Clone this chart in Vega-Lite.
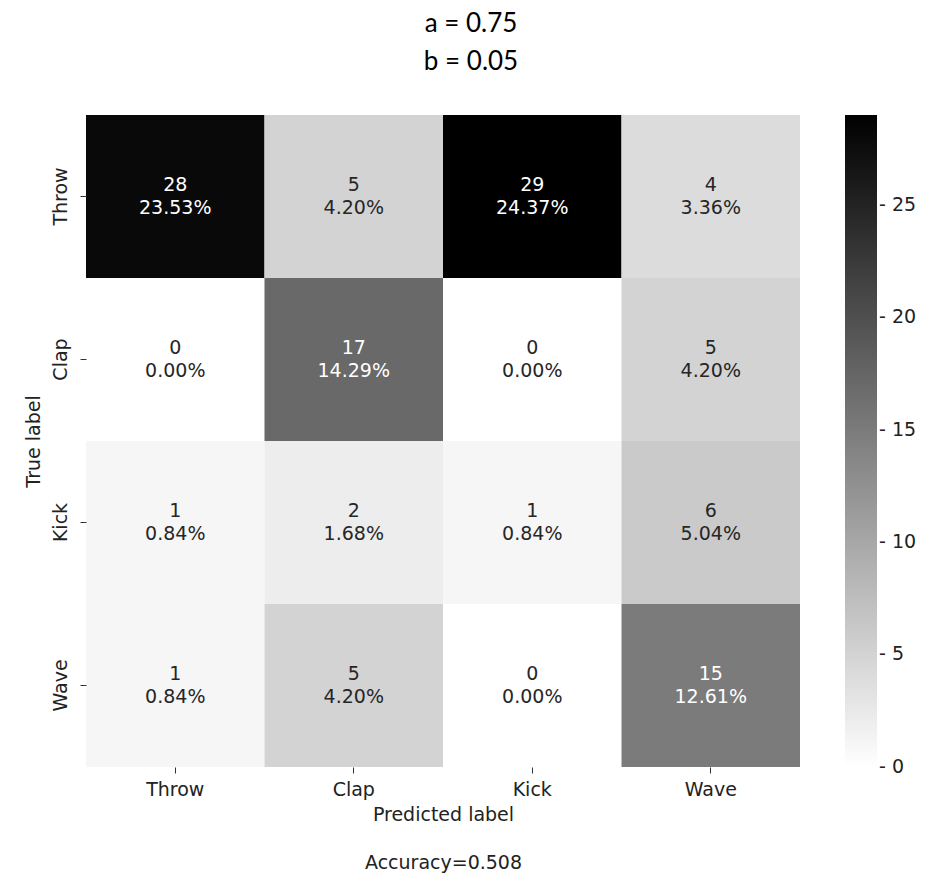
{
  "$schema": "https://vega.github.io/schema/vega-lite/v6.json",
  "width": 714,
  "height": 652,
  "autosize": {"type": "none"},
  "padding": {"left": 86, "top": 115, "right": 148, "bottom": 125},
  "background": "white",
  "title": {
    "text": ["a = 0.75", "b = 0.05"],
    "font": "Lato",
    "fontSize": 26,
    "fontWeight": "normal",
    "color": "black",
    "lineHeight": 38,
    "anchor": "middle",
    "frame": "group",
    "offset": 40,
    "dx": 28
  },
  "config": {
    "view": {"stroke": null},
    "font": "DejaVu Sans"
  },
  "data": {
    "values": [
      {"true": "Throw", "pred": "Throw", "count": 28, "pct": 0.23529},
      {"true": "Throw", "pred": "Clap", "count": 5, "pct": 0.04202},
      {"true": "Throw", "pred": "Kick", "count": 29, "pct": 0.24370},
      {"true": "Throw", "pred": "Wave", "count": 4, "pct": 0.03361},
      {"true": "Clap", "pred": "Throw", "count": 0, "pct": 0},
      {"true": "Clap", "pred": "Clap", "count": 17, "pct": 0.14286},
      {"true": "Clap", "pred": "Kick", "count": 0, "pct": 0},
      {"true": "Clap", "pred": "Wave", "count": 5, "pct": 0.04202},
      {"true": "Kick", "pred": "Throw", "count": 1, "pct": 0.00840},
      {"true": "Kick", "pred": "Clap", "count": 2, "pct": 0.01681},
      {"true": "Kick", "pred": "Kick", "count": 1, "pct": 0.00840},
      {"true": "Kick", "pred": "Wave", "count": 6, "pct": 0.05042},
      {"true": "Wave", "pred": "Throw", "count": 1, "pct": 0.00840},
      {"true": "Wave", "pred": "Clap", "count": 5, "pct": 0.04202},
      {"true": "Wave", "pred": "Kick", "count": 0, "pct": 0},
      {"true": "Wave", "pred": "Wave", "count": 15, "pct": 0.12605}
    ]
  },
  "encoding": {
    "x": {
      "field": "pred",
      "type": "nominal",
      "sort": ["Throw", "Clap", "Kick", "Wave"],
      "scale": {"paddingInner": 0, "paddingOuter": 0},
      "axis": {
        "orient": "bottom",
        "labelAngle": 0,
        "domain": false,
        "tickSize": 6,
        "tickColor": "#333333",
        "labelPadding": 7,
        "labelFont": "DejaVu Sans",
        "labelFontSize": 19,
        "labelColor": "#222222",
        "title": ["Predicted label", "Accuracy=0.508"],
        "titleFont": "DejaVu Sans",
        "titleFontSize": 19,
        "titleFontWeight": "normal",
        "titleColor": "#222222",
        "titleLineHeight": 48,
        "titlePadding": 6
      }
    },
    "y": {
      "field": "true",
      "type": "nominal",
      "sort": ["Throw", "Clap", "Kick", "Wave"],
      "scale": {"paddingInner": 0, "paddingOuter": 0},
      "axis": {
        "labelAngle": -90,
        "labelAlign": "center",
        "labelBaseline": "bottom",
        "domain": false,
        "tickSize": 6,
        "tickColor": "#333333",
        "labelPadding": 10,
        "labelFont": "DejaVu Sans",
        "labelFontSize": 19,
        "labelColor": "#222222",
        "title": "True label",
        "titleFont": "DejaVu Sans",
        "titleFontSize": 19,
        "titleFontWeight": "normal",
        "titleColor": "#222222",
        "titlePadding": 8
      }
    }
  },
  "layer": [
    {
      "mark": {"type": "rect"},
      "encoding": {
        "color": {
          "field": "count",
          "type": "quantitative",
          "scale": {"domain": [-0.01, 29], "range": ["#ffffff", "#000000"], "interpolate": "rgb"},
          "legend": {
            "orient": "none",
            "legendX": 759,
            "legendY": 0,
            "direction": "vertical",
            "title": null,
            "gradientLength": 652,
            "gradientThickness": 32,
            "gradientStrokeWidth": 0,
            "values": [0, 5, 10, 15, 20, 25],
            "labelExpr": "'- ' + datum.label",
            "labelFont": "DejaVu Sans",
            "labelFontSize": 19,
            "labelColor": "#222222",
            "labelOverlap": false,
            "labelBaseline": "middle",
            "labelOffset": 2
          }
        }
      }
    },
    {
      "mark": {"type": "text", "dy": -12, "font": "DejaVu Sans", "fontSize": 19},
      "encoding": {
        "text": {"field": "count", "type": "quantitative"},
        "color": {"condition": {"test": "datum.count > 12", "value": "white"}, "value": "#262626"}
      }
    },
    {
      "mark": {"type": "text", "dy": 11, "font": "DejaVu Sans", "fontSize": 19},
      "encoding": {
        "text": {"field": "pct", "type": "quantitative", "format": ".2%"},
        "color": {"condition": {"test": "datum.count > 12", "value": "white"}, "value": "#262626"}
      }
    }
  ]
}
